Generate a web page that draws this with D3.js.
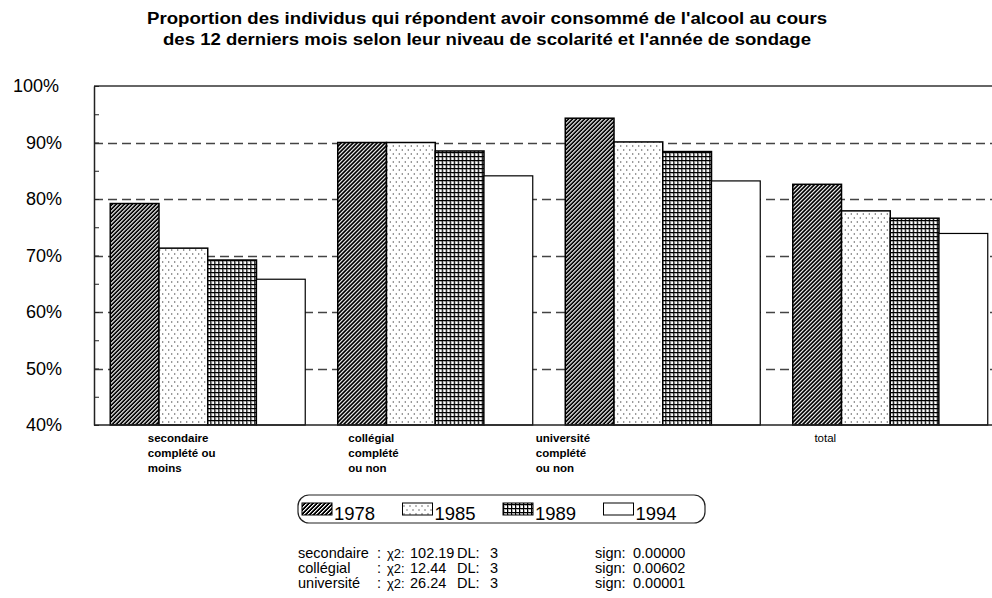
<!DOCTYPE html>
<html>
<head>
<meta charset="utf-8">
<script src="https://cdn.jsdelivr.net/npm/d3@7"></script>
<style>
  body { margin: 0; background: #fff; }
  svg { display: block; font-family: "Liberation Sans", Arial, Helvetica, sans-serif; }
</style>
</head>
<body>
<svg id="chart" width="992" height="598"></svg>
<script>
// data
var categories = ['secondaire', 'collegial', 'universite', 'total'];
var categoryLabels = [
  ['secondaire', 'complété ou', 'moins'],
  ['collégial', 'complété', 'ou non'],
  ['université', 'complété', 'ou non'],
  ['total']
];
var years = ['1978', '1985', '1989', '1994'];
var values1978 = [79.2, 90.0, 94.3, 82.6];
var values1985 = [71.3, 90.0, 90.1, 77.9];
var values1989 = [69.2, 88.5, 88.4, 76.6];
var values1994 = [65.8, 84.1, 83.2, 73.9];
var yTicks = [40, 50, 60, 70, 80, 90, 100];
var statNames = ['secondaire', 'collégial', 'université'];
var statChi2 = ['102.19', '12.44', '26.24'];
var statDL = ['3', '3', '3'];
var statSign = ['0.00000', '0.00602', '0.00001'];

var series = [values1978, values1985, values1989, values1994];

var svg = d3.select('#chart');
var plotLeft = 94, plotTop = 86, plotBottom = 425, plotRight = 1004;

var x0 = d3.scaleBand().domain(categories).range([plotLeft, plotRight])
  .paddingInner(0.1429).paddingOuter(0.0714);
var x1 = d3.scaleBand().domain(years).range([0, x0.bandwidth()]);
var y = d3.scaleLinear().domain([40, 100]).range([plotBottom, plotTop]);

// fill patterns
var defs = svg.append('defs');
var p78 = defs.append('pattern').attr('id', 'pat1978')
  .attr('patternUnits', 'userSpaceOnUse').attr('width', 4).attr('height', 4)
  .attr('shape-rendering', 'crispEdges');
p78.append('rect').attr('width', 4).attr('height', 4).attr('fill', '#000');
[[3, 0], [2, 1], [1, 2], [0, 3]].forEach(function (p) {
  p78.append('rect').attr('x', p[0]).attr('y', p[1]).attr('width', 1).attr('height', 1).attr('fill', '#fff');
  p78.append('rect').attr('x', (p[0] + 1) % 4).attr('y', p[1]).attr('width', 1).attr('height', 1).attr('fill', '#8a8a8a');
});
var p85 = defs.append('pattern').attr('id', 'pat1985')
  .attr('patternUnits', 'userSpaceOnUse').attr('width', 6).attr('height', 8)
  .attr('shape-rendering', 'crispEdges');
p85.append('rect').attr('width', 6).attr('height', 8).attr('fill', '#fff');
p85.append('rect').attr('x', 1).attr('y', 1).attr('width', 1).attr('height', 2).attr('fill', '#777');
p85.append('rect').attr('x', 4).attr('y', 5).attr('width', 1).attr('height', 2).attr('fill', '#777');
var p89 = defs.append('pattern').attr('id', 'pat1989')
  .attr('patternUnits', 'userSpaceOnUse').attr('width', 4).attr('height', 4)
  .attr('shape-rendering', 'crispEdges');
p89.append('rect').attr('width', 4).attr('height', 4).attr('fill', '#b0b0b0');
p89.append('rect').attr('x', 2).attr('y', 2).attr('width', 2).attr('height', 2).attr('fill', '#fff');
p89.append('rect').attr('x', 0).attr('y', 0).attr('width', 1).attr('height', 4).attr('fill', '#000');
p89.append('rect').attr('x', 0).attr('y', 0).attr('width', 4).attr('height', 1).attr('fill', '#000');
var fills = ['url(#pat1978)', 'url(#pat1985)', 'url(#pat1989)', '#fff'];

// title
var titleLines = [
  "Proportion des individus qui répondent avoir consommé de l'alcool au cours",
  "des 12 derniers mois selon leur niveau de scolarité et l'année de sondage"
];
var titleWidths = [680, 648];
titleLines.forEach(function (t, i) {
  svg.append('text').attr('x', 487).attr('y', 24 + i * 21).attr('text-anchor', 'middle')
    .attr('font-size', 16).attr('font-weight', 'bold')
    .attr('textLength', titleWidths[i]).attr('lengthAdjust', 'spacingAndGlyphs')
    .text(t);
});

// grid lines
svg.append('g').selectAll('line').data(yTicks.filter(function (d) { return d > 40 && d < 100; }))
  .join('line')
  .attr('x1', plotLeft).attr('x2', 992)
  .attr('y1', function (d) { return Math.round(y(d)) + 0.5; })
  .attr('y2', function (d) { return Math.round(y(d)) + 0.5; })
  .attr('stroke', '#444').attr('stroke-width', 1.5).attr('stroke-dasharray', '9,5');
svg.append('line').attr('x1', plotLeft).attr('x2', 992).attr('y1', y(100)).attr('y2', y(100))
  .attr('stroke', '#333').attr('stroke-width', 1.5);

// bars
var groups = svg.append('g').selectAll('g').data(categories).join('g')
  .attr('transform', function (d) { return 'translate(' + x0(d) + ',0)'; });
groups.selectAll('rect')
  .data(function (d, i) { return years.map(function (yr, j) { return { year: yr, value: series[j][i], k: j }; }); })
  .join('rect')
  .attr('x', function (d) { return x1(d.year); })
  .attr('y', function (d) { return y(d.value); })
  .attr('width', x1.bandwidth())
  .attr('height', function (d) { return plotBottom - y(d.value); })
  .attr('fill', function (d) { return fills[d.k]; })
  .attr('stroke', '#000').attr('stroke-width', function (d) { return d.k === 3 ? 1.2 : 1.5; });

// axes
var minor = d3.range(40, 101, 5);
var yAxis = d3.axisLeft(y).tickValues(minor).tickSizeInner(-5).tickSizeOuter(0).tickPadding(32)
  .tickFormat(function (d) { return d % 10 === 0 ? d + '%' : ''; });
var ga = svg.append('g').attr('transform', 'translate(' + plotLeft + ',0)').call(yAxis);
ga.select('.domain').attr('stroke', '#222').attr('stroke-width', 1.5);
ga.selectAll('.tick line').attr('stroke', '#222');
ga.selectAll('.tick text').attr('font-size', 18).attr('fill', '#000')
  .attr('font-family', '"Liberation Sans", Arial, sans-serif')
  .attr('dx', function (d) { return d === 100 ? -3 : 0; });
svg.append('line').attr('x1', plotLeft).attr('x2', 992).attr('y1', plotBottom).attr('y2', plotBottom)
  .attr('stroke', '#222').attr('stroke-width', 1.5);

// category labels
var labelShift = [-60, -87, -127, 0];
categories.forEach(function (c, i) {
  var cx = x0(c) + x0.bandwidth() / 2 + labelShift[i];
  var isTotal = categoryLabels[i].length === 1;
  var t = svg.append('text').attr('font-size', 11.5)
    .attr('font-weight', isTotal ? 'normal' : 'bold')
    .attr('text-anchor', isTotal ? 'middle' : 'start');
  categoryLabels[i].forEach(function (line, k) {
    t.append('tspan').attr('x', isTotal ? cx - 65 : cx).attr('y', 442 + k * 15).text(line);
  });
});

// legend
svg.append('rect').attr('x', 298).attr('y', 495).attr('width', 407).attr('height', 28)
  .attr('rx', 11).attr('fill', 'none').attr('stroke', '#222').attr('stroke-width', 1.2);
var lg = svg.append('g').selectAll('g').data(years).join('g')
  .attr('transform', function (d, i) { return 'translate(' + (302 + i * 100.5) + ',0)'; });
lg.append('rect').attr('x', 0).attr('y', 503).attr('width', 30).attr('height', 12)
  .attr('fill', function (d, i) { return fills[i]; })
  .attr('stroke', '#000').attr('stroke-width', 1);
lg.append('text').attr('x', 32).attr('y', 520).attr('font-size', 18.5).text(function (d) { return d; });

// chi-square statistics
var st = svg.append('g').attr('font-size', 14.5).attr('fill', '#000');
statNames.forEach(function (n, i) {
  var by = 558 + i * 15;
  st.append('text').attr('x', 298).attr('y', by).text(n);
  st.append('text').attr('x', 377).attr('y', by).text(':');
  st.append('text').attr('x', 387).attr('y', by).attr('font-size', 13).text('χ2:');
  st.append('text').attr('x', 410).attr('y', by).text(statChi2[i]);
  st.append('text').attr('x', 457).attr('y', by).text('DL:');
  st.append('text').attr('x', 490).attr('y', by).text(statDL[i]);
  st.append('text').attr('x', 595).attr('y', by).text('sign:');
  st.append('text').attr('x', 633).attr('y', by).text(statSign[i]);
});
</script>
</body>
</html>
